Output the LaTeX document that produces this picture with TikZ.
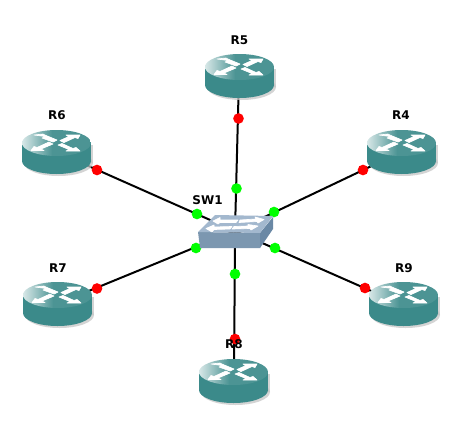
\documentclass[tikz,border=0pt]{standalone}
\usepackage{fontspec}
\setmainfont{DejaVu Sans}
\usetikzlibrary{calc}
\definecolor{teal1}{HTML}{3B8A8A}
\definecolor{teal2}{HTML}{2F7F7F}
\definecolor{teal3}{HTML}{4C9494}
\definecolor{swtop}{HTML}{A3B8CE}
\definecolor{swfront}{HTML}{7C97B0}
\definecolor{swside}{HTML}{6A88A5}
\tikzset{
  x=0.75pt,y=-0.75pt,
  link/.style={draw=black,line width=1.5pt},
  reddot/.style={circle,fill=red,draw=none,minimum size=8pt,inner sep=0pt},
  greendot/.style={circle,fill=green,draw=none,minimum size=8pt,inner sep=0pt},
  lbl/.style={font=\bfseries\fontsize{9}{10}\selectfont,inner sep=0pt,text=black},
  whitearrow/.style={fill=white,draw=white,line width=0.5pt,line join=round},
  pics/router/.style={code={
    % drop shadow
    \fill[gray!45,opacity=.75] (2,15) rectangle (71,33);
    \fill[gray!45,opacity=.75] (36.5,33) ellipse[x radius=25.875pt,y radius=9.75pt];
    % body
    \fill[teal1] (0,13) rectangle (69,31);
    \fill[teal1] (34.5,31) ellipse[x radius=25.875pt,y radius=9.75pt];
    % top face
    \begin{scope}
      \clip (34.5,13) ellipse[x radius=25.875pt,y radius=9.75pt];
      \fill[teal3] (30,0) rectangle (69,26);
      \shade[left color=white!80!teal1,right color=teal3] (0,0) rectangle (30,26);
    \end{scope}
    % four arrows
    \fill[whitearrow] (31,12) -- (20,8) -- (23,6.5) -- (12,5) -- (21,4) -- (24,5.5) -- (35,10) -- cycle;
    \fill[whitearrow] (38,10.5) -- (47,6.5) -- (44,5) -- (58,5) -- (56,8.5) -- (53,7.5) -- (42,12.5) -- cycle;
    \fill[whitearrow] (31,14) -- (19,19) -- (22,20.5) -- (9,20.5) -- (12,16.5) -- (15,17.5) -- (27,12) -- cycle;
    \fill[whitearrow] (36,15) -- (47,19.5) -- (44,21) -- (58,21) -- (54,17.5) -- (51,18.5) -- (40,13.5) -- cycle;
  }}
}
\begin{document}
\begin{tikzpicture}
\useasboundingbox (0,0) rectangle (468,422);
\fill[white] (0,0) rectangle (468,422);
% anchor points
\node[inner sep=0pt,minimum size=0pt] (SW) at (235,231) {};
\node[inner sep=0pt,minimum size=0pt] (c5) at (239,76) {};
\node[inner sep=0pt,minimum size=0pt] (c6) at (57,152) {};
\node[inner sep=0pt,minimum size=0pt] (c4) at (401,152) {};
\node[inner sep=0pt,minimum size=0pt] (c7) at (57,304) {};
\node[inner sep=0pt,minimum size=0pt] (c9) at (403,305) {};
\node[inner sep=0pt,minimum size=0pt] (c8) at (234,380) {};
% links
\draw[link] (SW) -- (c5);
\draw[link] (SW) -- (c6);
\draw[link] (SW) -- (c4);
\draw[link] (SW) -- (c7);
\draw[link] (SW) -- (c9);
\draw[link] (SW) -- (c8);
% status dots
\node[reddot] (d5) at (238.5,118.5) {};
\node[reddot] (d6) at (97,170) {};
\node[reddot] (d4) at (363,170) {};
\node[reddot] (d7) at (97,288.5) {};
\node[reddot] (d9) at (365,288) {};
\node[reddot] (d8) at (235,339) {};
\node[greendot] (g5) at (236.5,188.5) {};
\node[greendot] (g6) at (197,214) {};
\node[greendot] (g4) at (274,212) {};
\node[greendot] (g7) at (196,248) {};
\node[greendot] (g9) at (275,248) {};
\node[greendot] (g8) at (235,274) {};
% routers
\pic at (205,54) {router};
\pic at (22,130) {router};
\pic at (367,130) {router};
\pic at (23,282) {router};
\pic at (369,282) {router};
\pic at (199,359) {router};
% switch
\fill[swfront] (198,232) -- (260,233) -- (260,248) -- (200,248) -- cycle;
\fill[swside] (260,233) -- (273,217) -- (273,229) -- (260,248) -- cycle;
\fill[swtop] (198,232) -- (215,215) -- (273,216) -- (260,233) -- cycle;
\fill[whitearrow] (213,221) -- (220,217.5) -- (220,220) -- (238,220) -- (236,222.5) -- (220,222.5) -- (218,224) -- cycle;
\fill[whitearrow] (240,220) -- (256,219) -- (255,217) -- (264,219.5) -- (258,223) -- (257,221.5) -- (239,222.5) -- cycle;
\fill[whitearrow] (206,228.5) -- (214,225) -- (214,227) -- (232,226.5) -- (230,229) -- (214,229.5) -- (212,232) -- cycle;
\fill[whitearrow] (234,226.5) -- (248,226) -- (248,224.5) -- (258,226) -- (251,230) -- (250,228.5) -- (232,229) -- cycle;
% labels
\node[lbl] (R5) at (239.5,40) {R5};
\node[lbl] (R6) at (57,115.5) {R6};
\node[lbl] (R4) at (401,115.5) {R4};
\node[lbl] (R7) at (58,268.5) {R7};
\node[lbl] (R9) at (404,268.5) {R9};
\node[lbl] (R8) at (234,344.5) {R8};
\node[lbl] (SW1) at (207.5,200.5) {SW1};
\end{tikzpicture}
\end{document}
